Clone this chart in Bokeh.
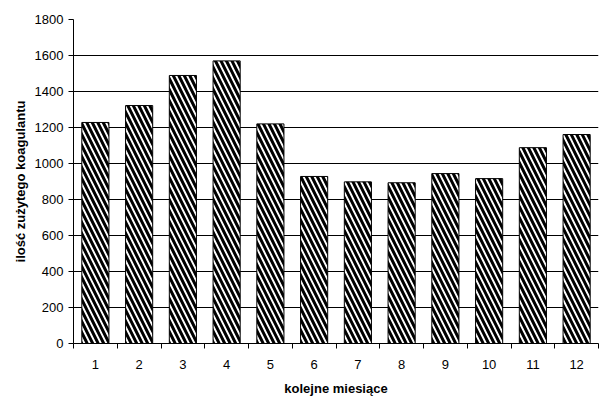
from bokeh.plotting import figure
from bokeh.models import FixedTicker, Range1d
from bokeh.embed import file_html
from bokeh.resources import INLINE

months = [1, 2, 3, 4, 5, 6, 7, 8, 9, 10, 11, 12]
usage = [1228, 1322, 1489, 1570, 1220, 928, 898, 893, 944, 916, 1088, 1161]
y_ticks = [0, 200, 400, 600, 800, 1000, 1200, 1400, 1600, 1800]
grid_ticks = [200, 400, 600, 800, 1000, 1200, 1400, 1600]
x_title = "kolejne miesiące"
y_title = "ilość zużytego koagulantu"

FONT = "Liberation Sans"

p = figure(width=609, height=403, output_backend="svg", toolbar_location=None,
           x_range=Range1d(0.5, 12.5), y_range=Range1d(0, 1800),
           min_border_left=73, min_border_right=11, min_border_top=19, min_border_bottom=60)
p.outline_line_color = None
p.background_fill_color = "white"
p.border_fill_color = "white"

p.vbar(x=months, top=usage, width=0.62, bottom=0,
       fill_color="white", line_color="black", line_width=1,
       hatch_pattern="left_diagonal_line", hatch_color="black",
       hatch_scale=11, hatch_weight=3)

p.xgrid.visible = False
p.ygrid.ticker = FixedTicker(ticks=grid_ticks)
p.ygrid.grid_line_color = "black"
p.ygrid.grid_line_width = 1

xa = p.xaxis[0]
xa.ticker = FixedTicker(ticks=months, minor_ticks=[m - 0.5 for m in months] + [months[-1] + 0.5])
xa.major_tick_out = 0
xa.major_tick_in = 0
xa.minor_tick_out = 5
xa.minor_tick_in = 0
xa.minor_tick_line_color = "black"
xa.major_label_standoff = 11
xa.axis_label = x_title
xa.axis_label_standoff = 9

ya = p.yaxis[0]
ya.ticker = FixedTicker(ticks=y_ticks, minor_ticks=[])
ya.major_tick_out = 5
ya.major_tick_in = 0
ya.minor_tick_line_color = None
ya.major_label_standoff = 5
ya.axis_label = y_title
ya.axis_label_standoff = 4

for ax in (xa, ya):
    ax.axis_line_color = "black"
    ax.major_tick_line_color = "black"
    ax.major_label_text_font = FONT
    ax.major_label_text_font_size = "13px"
    ax.major_label_text_color = "black"
    ax.axis_label_text_font = FONT
    ax.axis_label_text_font_size = "13px"
    ax.axis_label_text_font_style = "bold"
    ax.axis_label_text_color = "black"

open("out.html", "w").write(file_html(p, INLINE))
